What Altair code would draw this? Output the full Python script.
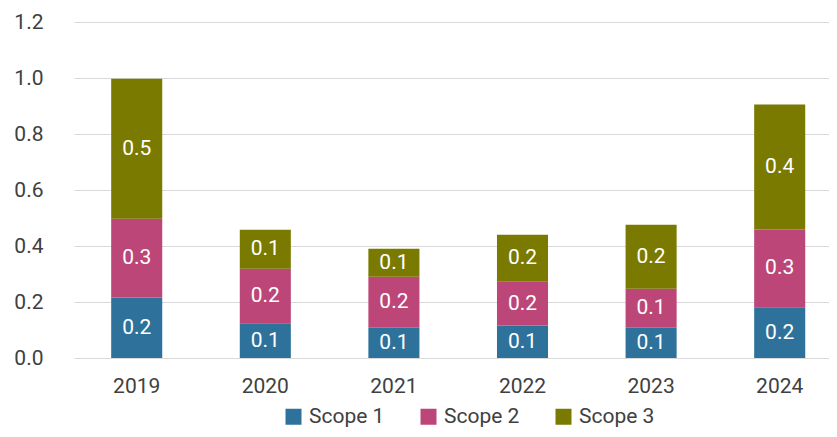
import altair as alt
import pandas as pd

years = ["2019", "2020", "2021", "2022", "2023", "2024"]
scope1 = [0.216, 0.124, 0.108, 0.116, 0.108, 0.181]
scope2 = [0.281, 0.195, 0.182, 0.156, 0.139, 0.278]
scope3 = [0.500, 0.139, 0.100, 0.168, 0.229, 0.446]
series = ["Scope 1", "Scope 2", "Scope 3"]
colors = ["#2E729B", "#BB4677", "#7A7A00"]

rows = []
for name, vals in zip(series, [scope1, scope2, scope3]):
    for i, (y, v) in enumerate(zip(years, vals)):
        rows.append({"year": y, "scope": name, "value": v, "order": series.index(name)})
df = pd.DataFrame(rows)

FONT = "Roboto"
FS = 21

x = alt.X("year:N", title=None, sort=years,
          scale=alt.Scale(paddingInner=0.603, paddingOuter=0.237, align=0.61),
          axis=alt.Axis(labelAngle=0, labelFontSize=FS, labelColor="#404040", labelFont=FONT,
                        ticks=False, domain=False, labelPadding=17, grid=False))

base = alt.Chart(df).transform_stack(
    stack="value", groupby=["year"], as_=["y0", "y1"],
    sort=[alt.SortField("order", order="ascending")]
).transform_calculate(mid="(datum.y0 + datum.y1) / 2")

bars = base.mark_bar().encode(
    x=x,
    y=alt.Y("y0:Q", title=None,
            scale=alt.Scale(domain=[0, 1.2], nice=False),
            axis=alt.Axis(values=[0, 0.2, 0.4, 0.6, 0.8, 1.0, 1.2], format=".1f",
                          labelFontSize=FS, labelColor="#404040", labelFont=FONT,
                          ticks=False, domain=False, labelPadding=31,
                          gridColor="#D9D9D9", gridWidth=1)),
    y2="y1:Q",
    color=alt.Color("scope:N", sort=series,
                    scale=alt.Scale(domain=series, range=colors),
                    legend=alt.Legend(title=None, orient="none", direction="horizontal",
                                      legendX=209, legendY=384,
                                      symbolType="square", symbolSize=256, symbolStrokeWidth=0,
                                      symbolOpacity=1,
                                      labelFontSize=FS, labelColor="#404040", labelFont=FONT,
                                      labelOffset=5, columnPadding=33)),
)

labels = base.mark_text(color="white", fontSize=FS, font=FONT, baseline="middle").encode(
    x=alt.X("year:N", sort=years),
    y=alt.Y("mid:Q"),
    text=alt.Text("value:Q", format=".1f"),
)

chart = alt.layer(bars, labels).properties(
    width=755, height=336,
    autosize=alt.AutoSizeParams(type="none"),
    padding={"left": 66, "top": 14, "right": 0, "bottom": 71},
).configure(font=FONT).configure_view(stroke=None)

chart.save("out.html", embed_options={"renderer": "svg", "actions": False})
